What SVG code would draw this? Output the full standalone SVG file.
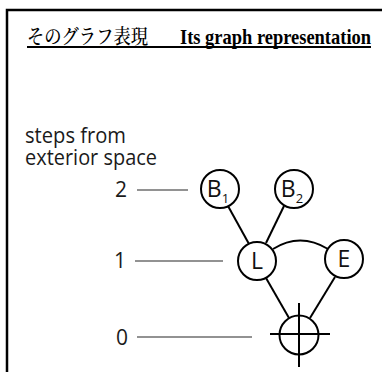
<svg xmlns="http://www.w3.org/2000/svg" width="382" height="372" viewBox="0 0 382 372">
<style>
.frame{fill:none;stroke:#000;stroke-width:2.5}
.node{fill:#fff;stroke:#000;stroke-width:2}
.edge{fill:none;stroke:#000;stroke-width:2}
.lvl{stroke:#6e6e6e;stroke-width:1.6}
.lbl{font-family:"Open Sans","DejaVu Sans",sans-serif;fill:#1a1a1a}
.nl{font-family:"Open Sans","DejaVu Sans",sans-serif;font-size:23px;fill:#111;text-anchor:middle}
.sub{font-size:13px}
</style>
<rect width="382" height="372" fill="#fff"/>
<path class="frame" d="M7 372 V10 H382"/>
<g id="title">
<text x="27" y="44" font-family="'Noto Serif CJK JP','Noto Sans CJK JP',serif" font-size="20" font-weight="500" textLength="121" lengthAdjust="spacingAndGlyphs">そのグラフ表現</text>
<text x="180" y="44" font-family="'Liberation Serif',serif" font-weight="bold" font-size="22" textLength="191" lengthAdjust="spacingAndGlyphs">Its graph representation</text>
<line x1="27" y1="47" x2="371" y2="47" stroke="#000" stroke-width="2.2"/>
</g>
<g id="axis-label" class="lbl" font-size="21">
<text x="25" y="143" textLength="101" lengthAdjust="spacingAndGlyphs">steps from</text>
<text x="25" y="165" textLength="132" lengthAdjust="spacingAndGlyphs">exterior space</text>
</g>
<g id="levels">
<text class="lbl" x="127" y="197" font-size="21" text-anchor="end">2</text>
<line class="lvl" x1="137" y1="190" x2="188" y2="190"/>
<text class="lbl" x="126" y="268" font-size="21" text-anchor="end">1</text>
<line class="lvl" x1="135" y1="261" x2="223" y2="261"/>
<text class="lbl" x="128" y="345" font-size="21" text-anchor="end">0</text>
<line class="lvl" x1="137" y1="337" x2="252" y2="337"/>
</g>
<g id="connectors">
<line class="edge" x1="228" y1="206" x2="249" y2="244"/>
<line class="edge" x1="284" y1="206" x2="266" y2="243"/>
<path class="edge" d="M273 249 Q300 232 328 249"/>
<line class="edge" x1="266" y1="278" x2="289" y2="318"/>
<line class="edge" x1="335" y1="277" x2="310" y2="318"/>
</g>
<g id="B1">
<circle class="node" cx="220" cy="189" r="19"/>
<text class="nl" x="218" y="197">B<tspan class="sub" dy="6">1</tspan></text>
</g>
<g id="B2">
<circle class="node" cx="294" cy="189" r="19"/>
<text class="nl" x="292" y="197">B<tspan class="sub" dy="6">2</tspan></text>
</g>
<g id="L">
<circle class="node" cx="257" cy="261" r="19"/>
<text class="nl" x="257" y="269">L</text>
</g>
<g id="E">
<circle class="node" cx="344" cy="259" r="19"/>
<text class="nl" x="344" y="267">E</text>
</g>
<g id="exterior">
<circle class="node" cx="299" cy="335" r="19.5"/>
<line class="edge" x1="270" y1="334" x2="330" y2="334"/>
<line class="edge" x1="299" y1="303" x2="299" y2="367"/>
</g>
</svg>
